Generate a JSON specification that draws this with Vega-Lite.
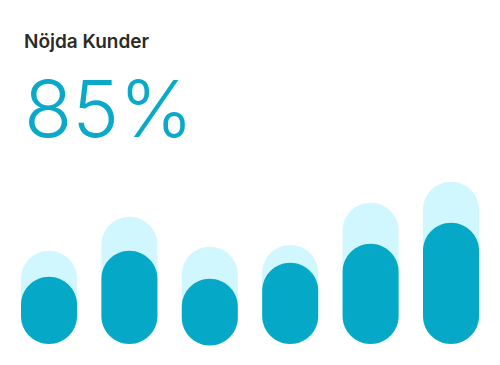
{
  "$schema": "https://vega.github.io/schema/vega-lite/v6.json",
  "width": 500,
  "height": 215,
  "autosize": {"type": "none"},
  "padding": {"top": 150, "left": 0, "right": 0, "bottom": 0},
  "background": "#ffffff",
  "title": {
    "text": "Nöjda Kunder",
    "subtitle": "85%",
    "anchor": "start",
    "frame": "group",
    "dx": 24,
    "font": "Inter",
    "fontSize": 19,
    "fontWeight": 600,
    "color": "#2b2b2b",
    "subtitleFont": "Inter",
    "subtitleFontSize": 79,
    "subtitleFontWeight": 300,
    "subtitleColor": "#0aa9c9",
    "subtitlePadding": 23,
    "offset": -3
  },
  "data": {
    "values": [
      {"period": "1", "target": 46.6, "actual": 33.6, "base": 0},
      {"period": "2", "target": 63.6, "actual": 46.6, "base": 0},
      {"period": "3", "target": 48.6, "actual": 32.6, "base": -0.8},
      {"period": "4", "target": 49.5, "actual": 40.6, "base": 0},
      {"period": "5", "target": 70.6, "actual": 50.1, "base": 0},
      {"period": "6", "target": 81.1, "actual": 60.6, "base": 0}
    ]
  },
  "encoding": {
    "x": {
      "field": "period",
      "type": "nominal",
      "axis": null,
      "scale": {"paddingInner": 0.303, "paddingOuter": 0.261}
    }
  },
  "layer": [
    {
      "mark": {"type": "bar", "cornerRadius": 28, "color": "#d1f7fe"},
      "encoding": {
        "y": {"field": "target", "type": "quantitative", "axis": null, "scale": {"domain": [0, 97], "range": [194, 0], "nice": false, "zero": false}},
        "y2": {"field": "base"}
      }
    },
    {
      "mark": {"type": "bar", "cornerRadius": 28, "color": "#05a9c7"},
      "encoding": {
        "y": {"field": "actual", "type": "quantitative"},
        "y2": {"field": "base"}
      }
    }
  ],
  "config": {"view": {"stroke": null}}
}
